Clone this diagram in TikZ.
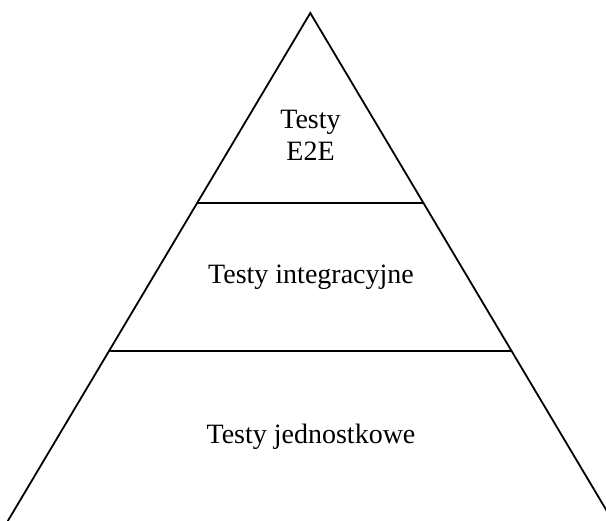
\documentclass[tikz,border=0pt]{standalone}
\usepackage{fontspec}
\setmainfont{Liberation Serif}
\begin{document}
\begin{tikzpicture}[x=1pt,y=-1pt,
  edge/.style={line width=1.8pt,line cap=round,line join=miter},
  lbl/.style={font=\fontsize{28}{32.7}\selectfont,align=center,inner sep=0pt}]
\useasboundingbox (0,0) rectangle (606,521);
\coordinate (apex) at (310.3,13);
\coordinate (bl) at (7.8,521);
\coordinate (br) at (612.8,521);
\coordinate (l1) at (197.2,203);
\coordinate (r1) at (423.4,203);
\coordinate (l2) at (109.2,351);
\coordinate (r2) at (511.4,351);
\begin{scope}
\clip (0,0) rectangle (606,521);
\draw[edge] (bl) -- (apex) -- (br);
\draw[edge] (l1) -- (r1);
\draw[edge] (l2) -- (r2);
\end{scope}
\node[lbl,anchor=base] (top) at (310.5,128.3) {Testy};
\node[lbl,anchor=base] (top2) at (310.5,161) {E2E};
\node[lbl,anchor=base] (mid) at (311,283.3) {Testy integracyjne};
\node[lbl,anchor=base] (bot) at (311,444) {Testy jednostkowe};
\end{tikzpicture}
\end{document}
